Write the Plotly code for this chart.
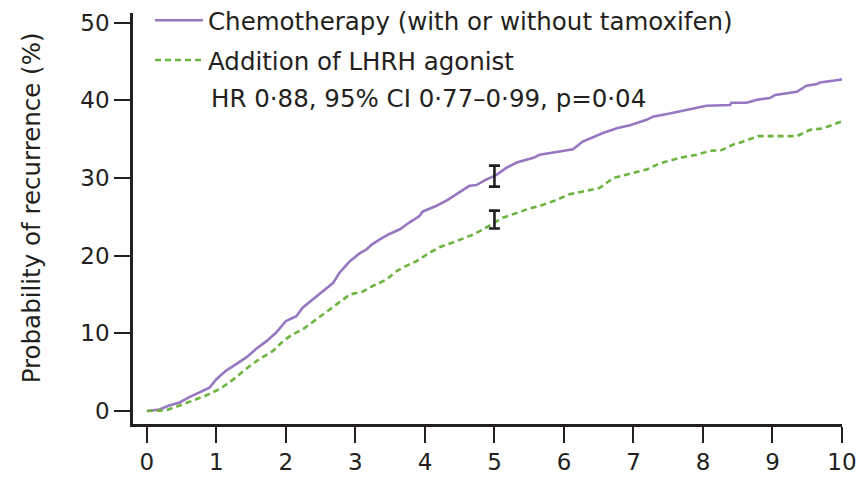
import plotly.graph_objects as go

# Time (years) and cumulative probability of recurrence (%)
time_chemo = [0, 0.18, 0.32, 0.47, 0.61, 0.76, 0.9, 1.0, 1.14, 1.28, 1.43, 1.57, 1.72, 1.86, 2.0,
              2.15, 2.24, 2.39, 2.53, 2.68, 2.77, 2.92, 3.06, 3.16, 3.23, 3.35, 3.49, 3.64, 3.78,
              3.92, 3.97, 4.16, 4.31, 4.45, 4.64, 4.74, 4.88, 5.03, 5.17, 5.32, 5.46, 5.56, 5.65,
              5.94, 6.13, 6.27, 6.37, 6.56, 6.76, 6.95, 7.19, 7.28, 7.52, 7.81, 8.05, 8.39, 8.41,
              8.63, 8.79, 8.96, 9.04, 9.35, 9.49, 9.64, 9.68, 9.92, 10.0]
risk_chemo = [0, 0.2, 0.7, 1.1, 1.8, 2.4, 3.0, 4.1, 5.2, 6.0, 6.9, 8.0, 9.0, 10.1, 11.6,
              12.2, 13.3, 14.4, 15.4, 16.5, 17.8, 19.3, 20.3, 20.8, 21.4, 22.1, 22.8, 23.4, 24.3,
              25.1, 25.7, 26.4, 27.1, 27.9, 29.0, 29.1, 29.8, 30.4, 31.3, 32.0, 32.3, 32.6, 33.0,
              33.4, 33.7, 34.7, 35.1, 35.8, 36.4, 36.8, 37.5, 37.9, 38.3, 38.9, 39.3, 39.4, 39.7,
              39.7, 40.1, 40.3, 40.7, 41.1, 41.9, 42.1, 42.3, 42.6, 42.7]

time_lhrh = [0, 0.28, 0.47, 0.66, 0.85, 1.04, 1.19, 1.33, 1.48, 1.62, 1.81, 1.96, 2.1, 2.24, 2.44,
             2.58, 2.77, 2.92, 3.11, 3.25, 3.44, 3.59, 3.73, 3.88, 4.07, 4.21, 4.40, 4.55, 4.69,
             4.84, 4.98, 5.12, 5.32, 5.51, 5.65, 5.84, 6.08, 6.51, 6.71, 6.95, 7.19, 7.38, 7.67,
             7.91, 8.1, 8.27, 8.43, 8.58, 8.79, 9.35, 9.54, 9.73, 10.0]
risk_lhrh = [0, 0.1, 0.7, 1.3, 2.0, 2.8, 3.7, 4.7, 5.8, 6.7, 7.7, 9.0, 9.9, 10.5, 11.8,
             12.7, 14.0, 15.0, 15.4, 16.1, 16.9, 18.0, 18.7, 19.3, 20.4, 21.1, 21.7, 22.2, 22.7,
             23.4, 24.2, 24.9, 25.5, 26.1, 26.4, 27.0, 27.9, 28.7, 30.0, 30.6, 31.1, 31.9, 32.6,
             33.0, 33.5, 33.6, 34.3, 34.7, 35.4, 35.4, 36.2, 36.4, 37.3]

# 5-year estimates with 95% CI half-widths
ci_time = [5, 5]
ci_mid = [30.25, 24.65]
ci_err = [1.35, 1.15]

series_names = ["Chemotherapy (with or without tamoxifen)", "Addition of LHRH agonist"]
stats_text = "HR 0·88, 95% CI 0·77–0·99, p=0·04"
x_ticks = list(range(0, 11))
y_ticks = [0, 10, 20, 30, 40, 50]
y_title = "Probability of recurrence (%)"

PURPLE = "#9677c0"
GREEN = "#6db33f"
INK = "#231f20"
FONT = "DejaVu Sans"
TXT = 24.5

fig = go.Figure()
fig.add_trace(go.Scatter(x=time_chemo, y=risk_chemo, mode="lines", name=series_names[0],
                         line=dict(color=PURPLE, width=2.6), legendgroup="a"))
fig.add_trace(go.Scatter(x=time_lhrh, y=risk_lhrh, mode="lines", name=series_names[1],
                         line=dict(color=GREEN, width=2.6, dash="6px,4px"), legendgroup="b"))
fig.add_trace(go.Scatter(x=ci_time, y=ci_mid, mode="markers", marker=dict(size=0.1, color=INK, opacity=0),
                         showlegend=False,
                         error_y=dict(type="data", array=ci_err, color=INK, thickness=2.6, width=5.5)))

fig.add_annotation(text=stats_text, xref="paper", yref="paper", x=0.107, y=0.791,
                   xanchor="left", yanchor="middle", showarrow=False,
                   font=dict(family=FONT, size=TXT, color=INK))
fig.add_annotation(text=y_title, xref="paper", yref="paper", x=-0.144, y=0.527,
                   xanchor="center", yanchor="middle", showarrow=False, textangle=-90,
                   font=dict(family=FONT, size=TXT, color=INK))

fig.update_layout(
    width=860, height=479,
    margin=dict(l=133, r=18, t=13, b=55, autoexpand=False),
    paper_bgcolor="white", plot_bgcolor="white",
    font=dict(family=FONT, size=TXT, color=INK),
    legend=dict(x=0.024, y=1.037, xanchor="left", yanchor="top",
                bgcolor="rgba(0,0,0,0)",
                font=dict(family=FONT, size=TXT, color=INK), tracegroupgap=5,
                traceorder="grouped", itemwidth=48),
    xaxis=dict(range=[-0.2, 10.0], tickvals=x_ticks, showgrid=False, zeroline=False,
               automargin=False,
               showline=True, linecolor=INK, linewidth=2.5, ticks="outside", ticklen=16,
               tickwidth=2.2, tickcolor=INK, tickfont=dict(family=FONT, size=23, color=INK)),
    yaxis=dict(range=[-1.67, 51.25], tickvals=y_ticks, showgrid=False, zeroline=False,
               automargin=False,
               showline=True, linecolor=INK, linewidth=2.5, ticks="outside", ticklen=16,
               tickwidth=2.2, tickcolor=INK, tickfont=dict(family=FONT, size=23, color=INK)),
)

fig.write_html("out.html")
